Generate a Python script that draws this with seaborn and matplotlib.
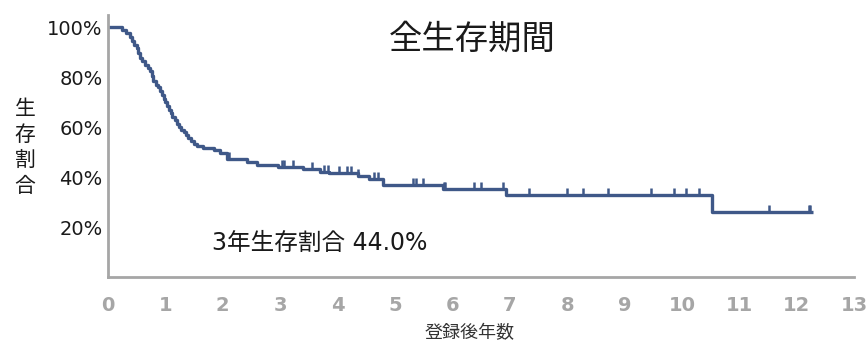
import numpy as np
import pandas as pd
import matplotlib
matplotlib.use("Agg")
import matplotlib.pyplot as plt
from matplotlib.path import Path
import seaborn as sns

# Kaplan-Meier step curve: event times (years) and survival (%)
step_years = [0.0, 0.24, 0.31, 0.38, 0.42, 0.46, 0.50, 0.53, 0.56, 0.60,
              0.64, 0.70, 0.73, 0.76, 0.78, 0.83, 0.87, 0.90, 0.94, 0.97,
              1.00, 1.03, 1.06, 1.09, 1.12, 1.16, 1.20, 1.24, 1.28, 1.32,
              1.36, 1.40, 1.45, 1.50, 1.55, 1.65, 1.85, 1.95, 2.08, 2.43,
              2.60, 2.97, 3.39, 3.70, 3.85, 4.35, 4.54, 4.79, 5.84, 6.93,
              10.52, 12.29]
survival_pct = [100.0, 98.7, 97.5, 96.0, 94.5, 93.0, 91.6, 89.5, 87.6, 86.5,
                84.8, 83.6, 82.4, 80.5, 78.5, 77.0, 76.0, 74.5, 72.8, 71.4,
                70.0, 68.5, 67.0, 65.5, 64.2, 62.8, 61.4, 60.0, 59.0, 58.0,
                57.0, 55.8, 54.6, 53.4, 52.5, 51.6, 50.8, 49.6, 47.2, 46.0,
                44.8, 44.0, 43.2, 42.0, 41.6, 40.4, 39.2, 36.8, 35.2, 32.8,
                26.0, 26.0]

# Censored observations (years)
censor_years = [2.10, 3.04, 3.06, 3.23, 3.56, 3.76, 3.83, 4.02, 4.17, 4.23,
                4.35, 4.63, 4.70, 5.31, 5.36, 5.49, 5.85, 5.88, 6.38, 6.50,
                6.88, 7.34, 7.99, 8.28, 8.72, 9.47, 9.87, 10.08, 10.29,
                11.51, 12.21, 12.24]

x_ticks = list(range(0, 14))
y_ticks = [20, 40, 60, 80, 100]
y_tick_labels = ["20%", "40%", "60%", "80%", "100%"]

title = "全生存期間"
x_label = "登録後年数"
y_label = "生\n存\n割\n合"
note = "3年生存割合 44.0%"

line_color = "#3f5888"
axis_gray = "#a6a6a6"

sns.set_theme(style="white")
plt.rcParams["font.family"] = ["DejaVu Sans", "Noto Sans CJK JP"]
jp = ["Noto Sans CJK JP", "DejaVu Sans"]

curve = pd.DataFrame({"years": step_years, "survival": survival_pct})
idx = np.searchsorted(step_years, censor_years, side="right") - 1
censored = pd.DataFrame({"years": censor_years,
                         "survival": np.asarray(survival_pct)[idx]})

fig = plt.figure(figsize=(8.66, 3.43), dpi=100)
ax = fig.add_axes([0.1247, 0.1924, 0.8615, 0.7653])

sns.lineplot(data=curve, x="years", y="survival", ax=ax,
             drawstyle="steps-post", color=line_color, linewidth=2.4,
             solid_capstyle="butt")

# upward tick marks for censoring
tick_marker = Path([(0, 0), (0, 1)], [Path.MOVETO, Path.LINETO])
sns.scatterplot(data=censored, x="years", y="survival", ax=ax,
                marker=tick_marker, s=90, color=line_color,
                linewidth=1.8, edgecolor=line_color, zorder=3)

ax.set_xlim(0, 13)
ax.set_ylim(0, 105)
ax.set_xticks(x_ticks)
ax.set_xticklabels([str(t) for t in x_ticks], fontsize=14,
                   fontweight="bold", color=axis_gray)
ax.set_yticks(y_ticks)
ax.set_yticklabels(y_tick_labels, fontsize=14, color="#1a1a1a")
ax.tick_params(axis="both", direction="in", length=5, width=1.5,
               color=axis_gray)
ax.tick_params(axis="x", pad=14)
ax.tick_params(axis="y", pad=4)

for side in ["top", "right"]:
    ax.spines[side].set_visible(False)
for side in ["left", "bottom"]:
    ax.spines[side].set_color(axis_gray)
    ax.spines[side].set_linewidth(2)

ax.set_xlabel("")
ax.set_ylabel("")

fig.text(0.545, 0.885, title, ha="center", va="center",
         fontsize=24, family=jp, color="#1a1a1a")
ax.text(1.82, 13.6, note, ha="left", va="center",
        fontsize=17, family=["DejaVu Sans", "Noto Sans CJK JP"],
        color="#1a1a1a")
fig.text(0.542, 0.03, x_label, ha="center", va="center",
         fontsize=13, family=jp, color="#333333")
fig.text(0.029, 0.57, y_label, ha="center", va="center",
         fontsize=15, family=jp, color="#1a1a1a", linespacing=1.2)

fig.savefig("out.png", dpi=100)
